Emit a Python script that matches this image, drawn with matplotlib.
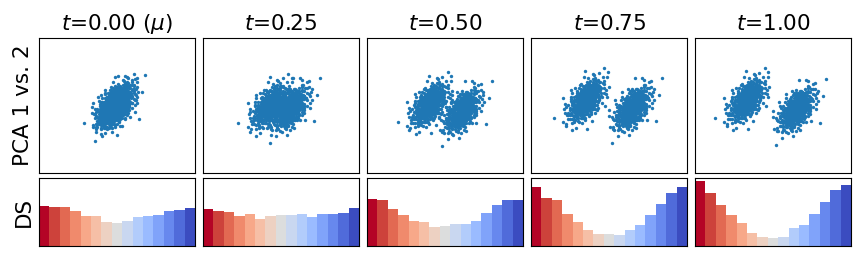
import numpy as np
import matplotlib
matplotlib.use("Agg")
import matplotlib.pyplot as plt

# panel titles
titles = [r"$t$=0.00 ($\mu$)", r"$t$=0.25", r"$t$=0.50", r"$t$=0.75", r"$t$=1.00"]

# cluster centres per panel (axes fraction)
left_centres = [(0.49, 0.50), (0.43, 0.50), (0.40, 0.51), (0.35, 0.54), (0.33, 0.54)]
right_centres = [(0.49, 0.50), (0.56, 0.48), (0.61, 0.46), (0.65, 0.48), (0.65, 0.47)]

# within-cluster spread (axes fraction) and correlation
spread_x = 0.058
spread_y = 0.08
spread_corr = 0.55
n_per_cluster = 400

# DS bars, height as fraction of the panel height
ds_values = [
    [0.59, 0.58, 0.58, 0.52, 0.44, 0.44, 0.35, 0.34, 0.37, 0.43, 0.44, 0.46, 0.52, 0.53, 0.56],
    [0.55, 0.52, 0.50, 0.44, 0.47, 0.40, 0.44, 0.46, 0.46, 0.47, 0.43, 0.47, 0.47, 0.49, 0.56],
    [0.69, 0.68, 0.55, 0.46, 0.37, 0.35, 0.28, 0.30, 0.33, 0.33, 0.37, 0.49, 0.61, 0.67, 0.68],
    [0.87, 0.71, 0.68, 0.47, 0.35, 0.24, 0.18, 0.18, 0.16, 0.24, 0.31, 0.46, 0.62, 0.78, 0.87],
    [0.95, 0.78, 0.61, 0.46, 0.34, 0.19, 0.13, 0.12, 0.13, 0.27, 0.31, 0.47, 0.65, 0.83, 0.89],
]


def halton(n, base, skip):
    out = np.zeros(n)
    for k in range(n):
        i = k + skip
        f, r = 1.0, 0.0
        while i > 0:
            f /= base
            r += f * (i % base)
            i //= base
        out[k] = r
    return out


def gauss_cloud(n, skip):
    # deterministic gaussian-shaped cloud (halton + box-muller)
    u1 = halton(n, 2, skip)
    u2 = halton(n, 3, skip)
    u1 = np.clip(u1, 1e-4, 1)
    r = np.sqrt(-2 * np.log(u1))
    z1 = r * np.cos(2 * np.pi * u2)
    z2 = r * np.sin(2 * np.pi * u2)
    x = spread_x * z1
    y = spread_y * (spread_corr * z1 + np.sqrt(1 - spread_corr ** 2) * z2)
    return x, y


base_left = gauss_cloud(n_per_cluster, 1)
base_right = gauss_cloud(n_per_cluster, 2001)

colors = plt.cm.coolwarm_r(np.linspace(0, 1, 15))

fig = plt.figure(figsize=(8.62, 2.56), dpi=100)
W, H = 862, 256
for i in range(5):
    x0 = (39 + 164 * i) / W
    ax = fig.add_axes([x0, (256 - 173) / H, 156 / W, 135 / H])
    lx = base_left[0] + left_centres[i][0]
    ly = base_left[1] + left_centres[i][1]
    rx = base_right[0] + right_centres[i][0]
    ry = base_right[1] + right_centres[i][1]
    ax.scatter(np.r_[lx, rx], np.r_[ly, ry], s=6, c="#1f77b4", linewidths=0)
    ax.set_xlim(0, 1)
    ax.set_ylim(0, 1)
    ax.set_xticks([])
    ax.set_yticks([])
    ax.set_title(titles[i], fontsize=15.5)
    if i == 0:
        ax.set_ylabel("PCA 1 vs. 2", fontsize=15.5)

    bx = fig.add_axes([x0, (256 - 246) / H, 156 / W, 68 / H])
    bx.bar(np.arange(15), ds_values[i], width=1.0, color=colors)
    bx.set_xlim(-0.5, 14.5)
    bx.set_ylim(0, 1)
    bx.set_xticks([])
    bx.set_yticks([])
    if i == 0:
        bx.set_ylabel("DS", fontsize=15.5)

fig.savefig("out.png", dpi=100)
